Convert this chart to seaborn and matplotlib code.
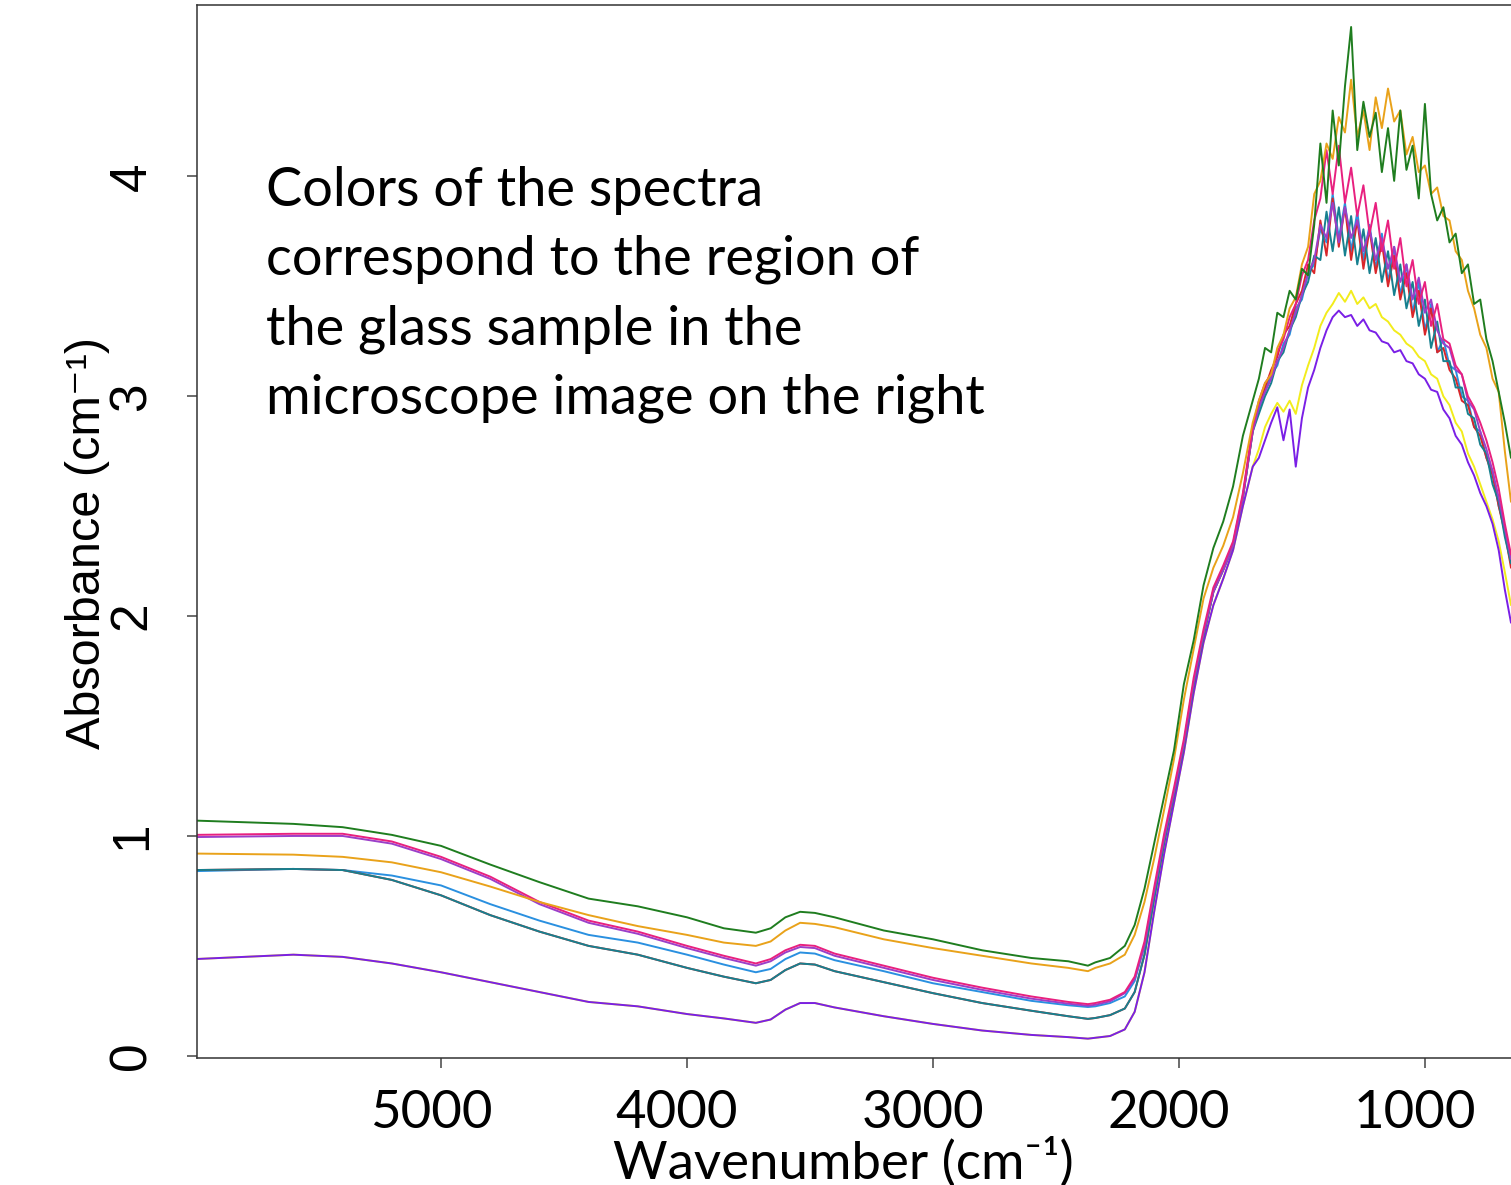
import matplotlib
matplotlib.use("Agg")
import matplotlib.pyplot as plt
import matplotlib.transforms as mtrans
import pandas as pd
import seaborn as sns

# Wavenumber grid (cm-1): smooth part, then the noisy lattice band
wn_smooth = [6000, 5600, 5400, 5200, 5000, 4800, 4600, 4400, 4200, 4000,
             3850, 3720, 3660, 3600, 3540, 3480, 3400, 3200, 3000, 2800,
             2600, 2450, 2370, 2340, 2280, 2220, 2180, 2140, 2100, 2060,
             2020, 1980, 1940, 1900, 1860, 1820, 1780, 1740, 1700]
wn_band = [1675, 1650, 1625, 1600, 1575, 1550, 1525, 1500, 1475, 1450,
           1425, 1400, 1375, 1350, 1325, 1300, 1275, 1250, 1225, 1200,
           1175, 1150, 1125, 1100, 1075, 1050, 1025, 1000, 975, 950,
           925, 900, 875, 850, 825, 800, 775, 750, 725, 700, 675, 650]
wavenumber = wn_smooth + wn_band

# Absorbance per spectrum (same order as wavenumber)
green = [1.07, 1.055, 1.04, 1.005, 0.955, 0.87, 0.79, 0.715, 0.68, 0.63,
         0.58, 0.56, 0.58, 0.63, 0.655, 0.65, 0.63, 0.57, 0.53, 0.48,
         0.445, 0.43, 0.41, 0.425, 0.445, 0.50, 0.595, 0.76, 0.97, 1.18,
         1.39, 1.69, 1.89, 2.14, 2.31, 2.43, 2.59, 2.82, 2.98,
         3.08, 3.22, 3.20, 3.38, 3.36, 3.48, 3.44, 3.58, 3.55, 3.78,
         4.15, 3.88, 4.30, 4.05, 4.41, 4.68, 4.12, 4.34, 4.18, 4.29,
         4.02, 4.22, 3.98, 4.30, 4.03, 4.14, 3.90, 4.33, 3.92, 3.80,
         3.86, 3.70, 3.74, 3.56, 3.60, 3.42, 3.44, 3.26, 3.16, 3.02, 2.88, 2.72]
orange = [0.92, 0.915, 0.905, 0.88, 0.835, 0.77, 0.70, 0.64, 0.59, 0.55,
          0.515, 0.50, 0.52, 0.57, 0.605, 0.60, 0.585, 0.53, 0.49, 0.455,
          0.42, 0.40, 0.385, 0.40, 0.42, 0.46, 0.55, 0.70, 0.90, 1.12,
          1.35, 1.62, 1.85, 2.08, 2.22, 2.32, 2.45, 2.65, 2.88,
          2.98, 3.06, 3.10, 3.22, 3.28, 3.40, 3.45, 3.60, 3.68, 3.92,
          3.98, 4.15, 4.08, 4.27, 4.20, 4.44, 4.18, 4.30, 4.12, 4.36,
          4.22, 4.40, 4.25, 4.30, 4.10, 4.18, 4.02, 4.05, 3.92, 3.95,
          3.82, 3.80, 3.66, 3.62, 3.48, 3.40, 3.28, 3.22, 3.08, 3.02, 2.75, 2.52]
deeppink = [1.005, 1.01, 1.01, 0.975, 0.905, 0.815, 0.70, 0.615, 0.565, 0.50,
            0.455, 0.42, 0.44, 0.48, 0.505, 0.50, 0.465, 0.41, 0.355, 0.31,
            0.27, 0.245, 0.235, 0.24, 0.255, 0.29, 0.36, 0.52, 0.77, 1.01,
            1.22, 1.44, 1.72, 1.94, 2.13, 2.23, 2.34, 2.56, 2.86,
            2.98, 3.06, 3.10, 3.20, 3.26, 3.36, 3.42, 3.55, 3.62,
            3.80, 3.90, 4.12, 3.92, 4.14, 3.88, 4.04, 3.82, 3.96, 3.74, 3.88,
            3.66, 3.80, 3.58, 3.72, 3.50, 3.62, 3.42, 3.52, 3.32, 3.42,
            3.26, 3.24, 3.14, 3.10, 3.00, 2.95, 2.88, 2.80, 2.70, 2.58, 2.42, 2.28]
darkorchid = [0.995, 1.0, 1.0, 0.965, 0.895, 0.805, 0.69, 0.605, 0.555, 0.49,
              0.445, 0.41, 0.43, 0.47, 0.495, 0.49, 0.455, 0.40, 0.345, 0.30,
              0.26, 0.237, 0.228, 0.232, 0.248, 0.285, 0.35, 0.50, 0.75, 0.99,
              1.20, 1.42, 1.70, 1.92, 2.11, 2.21, 2.32, 2.54, 2.84,
              2.95, 3.02, 3.08, 3.16, 3.22, 3.30, 3.38, 3.46, 3.56,
              3.62, 3.78, 3.72, 3.88, 3.70, 3.86, 3.72, 3.80, 3.66, 3.76, 3.62,
              3.72, 3.58, 3.68, 3.52, 3.60, 3.44, 3.54, 3.38, 3.44, 3.30,
              3.24, 3.22, 3.12, 3.10, 2.98, 2.94, 2.84, 2.76, 2.66, 2.54, 2.40, 2.26]
red = [0.845, 0.85, 0.845, 0.80, 0.73, 0.64, 0.565, 0.50, 0.46, 0.40,
       0.36, 0.33, 0.345, 0.39, 0.42, 0.415, 0.385, 0.335, 0.285, 0.24,
       0.205, 0.18, 0.168, 0.172, 0.185, 0.215, 0.29, 0.46, 0.72, 0.97,
       1.19, 1.41, 1.69, 1.91, 2.11, 2.21, 2.32, 2.54, 2.84,
       2.96, 3.04, 3.12, 3.18, 3.28, 3.32, 3.42, 3.48, 3.60,
       3.56, 3.80, 3.64, 3.90, 3.68, 3.86, 3.62, 3.80, 3.58, 3.76, 3.56,
       3.70, 3.50, 3.64, 3.44, 3.56, 3.36, 3.48, 3.28, 3.40, 3.20,
       3.22, 3.12, 3.08, 2.98, 2.96, 2.86, 2.82, 2.72, 2.64, 2.50, 2.38, 2.22]
teal = [0.845, 0.85, 0.845, 0.80, 0.73, 0.64, 0.565, 0.50, 0.46, 0.40,
        0.36, 0.33, 0.345, 0.39, 0.42, 0.415, 0.385, 0.335, 0.285, 0.24,
        0.205, 0.18, 0.168, 0.172, 0.185, 0.215, 0.29, 0.46, 0.72, 0.97,
        1.19, 1.41, 1.69, 1.91, 2.11, 2.21, 2.32, 2.54, 2.84,
        2.92, 3.00, 3.06, 3.16, 3.20, 3.30, 3.36, 3.46, 3.52,
        3.64, 3.62, 3.84, 3.66, 3.86, 3.64, 3.82, 3.60, 3.76, 3.56, 3.72,
        3.52, 3.66, 3.46, 3.60, 3.40, 3.52, 3.32, 3.44, 3.22, 3.34,
        3.16, 3.16, 3.04, 3.04, 2.92, 2.90, 2.78, 2.74, 2.60, 2.52, 2.36, 2.24]
dodgerblue = [0.84, 0.85, 0.845, 0.82, 0.775, 0.69, 0.615, 0.55, 0.515, 0.46,
              0.415, 0.38, 0.395, 0.44, 0.47, 0.465, 0.435, 0.385, 0.33, 0.29,
              0.25, 0.23, 0.222, 0.225, 0.24, 0.27, 0.34, 0.50, 0.75, 0.99,
              1.20, 1.42, 1.70, 1.92, 2.12, 2.22, 2.33, 2.55, 2.85,
              2.94, 3.02, 3.10, 3.14, 3.24, 3.28, 3.40, 3.44, 3.56,
              3.60, 3.76, 3.70, 3.92, 3.72, 3.88, 3.66, 3.84, 3.62, 3.78, 3.58,
              3.74, 3.52, 3.68, 3.46, 3.60, 3.38, 3.52, 3.30, 3.42, 3.20,
              3.26, 3.14, 3.12, 3.00, 2.98, 2.86, 2.84, 2.72, 2.66, 2.50, 2.40, 2.24]
yellow = [0.44, 0.46, 0.45, 0.42, 0.38, 0.335, 0.29, 0.245, 0.225, 0.19,
          0.17, 0.15, 0.165, 0.21, 0.24, 0.24, 0.22, 0.18, 0.145, 0.115,
          0.095, 0.085, 0.078, 0.082, 0.09, 0.12, 0.20, 0.38, 0.66, 0.92,
          1.15, 1.38, 1.65, 1.88, 2.05, 2.17, 2.30, 2.50, 2.68,
          2.76, 2.86, 2.92, 2.97, 2.93, 2.98, 2.92, 3.05, 3.14, 3.22,
          3.32, 3.38, 3.42, 3.47, 3.43, 3.48, 3.42, 3.45, 3.40, 3.42,
          3.36, 3.34, 3.30, 3.28, 3.24, 3.22, 3.18, 3.16, 3.10, 3.08,
          3.00, 2.96, 2.88, 2.84, 2.74, 2.68, 2.60, 2.52, 2.44, 2.34, 2.20, 2.05]
blueviolet = [0.44, 0.46, 0.45, 0.42, 0.38, 0.335, 0.29, 0.245, 0.225, 0.19,
              0.17, 0.15, 0.165, 0.21, 0.24, 0.24, 0.22, 0.18, 0.145, 0.115,
              0.095, 0.085, 0.078, 0.082, 0.09, 0.12, 0.20, 0.38, 0.66, 0.92,
              1.15, 1.38, 1.65, 1.88, 2.05, 2.17, 2.30, 2.50, 2.68,
              2.72, 2.80, 2.88, 2.95, 2.80, 2.94, 2.68, 2.90, 3.04, 3.12,
              3.22, 3.30, 3.36, 3.39, 3.36, 3.37, 3.32, 3.35, 3.30, 3.29,
              3.25, 3.24, 3.20, 3.21, 3.16, 3.15, 3.10, 3.08, 3.03, 3.02,
              2.94, 2.90, 2.82, 2.78, 2.70, 2.64, 2.56, 2.50, 2.42, 2.30, 2.12, 1.97]

spectra = {
    "yellow": yellow, "blueviolet": blueviolet, "dodgerblue": dodgerblue,
    "red": red, "teal": teal, "darkorchid": darkorchid,
    "deeppink": deeppink, "orange": orange, "green": green,
}
palette = {
    "yellow": "#f2ec1c", "blueviolet": "#7a1fe6", "dodgerblue": "#2a90e0",
    "red": "#d8262a", "teal": "#17808f", "darkorchid": "#9b3fc9",
    "deeppink": "#e8207f", "orange": "#e9a21a", "green": "#1f7d1f",
}

for name, vals in spectra.items():
    assert len(vals) == len(wavenumber), (name, len(vals))

df = pd.concat(
    [pd.DataFrame({"wavenumber": wavenumber, "absorbance": vals, "region": name})
     for name, vals in spectra.items()],
    ignore_index=True,
)

sns.set_style("ticks")
plt.rcParams["font.family"] = ["Lato", "DejaVu Sans"]
plt.rcParams["text.color"] = "black"
plt.rcParams["xtick.color"] = "black"
plt.rcParams["ytick.color"] = "black"
plt.rcParams["axes.labelcolor"] = "black"

fig = plt.figure(figsize=(15.11, 11.85), dpi=100)
ax = fig.add_axes([197 / 1511, 127 / 1185, 1314 / 1511, 1053 / 1185])

sns.lineplot(
    data=df, x="wavenumber", y="absorbance", hue="region",
    hue_order=list(spectra), palette=palette, estimator=None,
    sort=False, linewidth=1.4, legend=False, ax=ax,
)

ax.set_xlim(5992, 650)
ax.set_ylim(-0.01, 4.78)

for side in ["left", "bottom", "top"]:
    ax.spines[side].set_color("#333333")
    ax.spines[side].set_linewidth(1.1)
ax.spines["right"].set_visible(False)

ax.set_xticks([5000, 4000, 3000, 2000, 1000])
ax.set_yticks([0, 1, 2, 3, 4])
ax.tick_params(direction="out", length=7, width=1.1, color="#444444")
ax.tick_params(axis="x", pad=16)
ax.tick_params(axis="y", pad=22)

for lbl in ax.get_xticklabels():
    lbl.set_fontfamily(["Lato", "DejaVu Sans"])
    lbl.set_fontsize(38)
    lbl.set_transform(lbl.get_transform() + mtrans.ScaledTranslation(-0.1, 0, fig.dpi_scale_trans))
for lbl in ax.get_yticklabels():
    lbl.set_fontfamily(["Liberation Sans", "DejaVu Sans"])
    lbl.set_fontsize(37)
    lbl.set_rotation(90)
    lbl.set_va("center")
    lbl.set_ha("right")

ax.set_xlabel("Wavenumber (cm⁻¹)", fontsize=38, family=["Lato", "DejaVu Sans"])
ax.xaxis.set_label_coords(0.4916, -0.075)
ax.set_ylabel("Absorbance (cm⁻¹)", fontsize=35, family=["Liberation Sans", "DejaVu Sans"])
ax.yaxis.set_label_coords(-0.066, 0.489)

fig.text(
    266 / 1511, 1 - 166 / 1185,
    "Colors of the spectra\ncorrespond to the region of\nthe glass sample in the\n"
    "microscope image on the right",
    ha="left", va="top", fontsize=39, linespacing=1.5, color="black",
    family=["Lato", "DejaVu Sans"],
)

fig.savefig("out.png", dpi=100)
